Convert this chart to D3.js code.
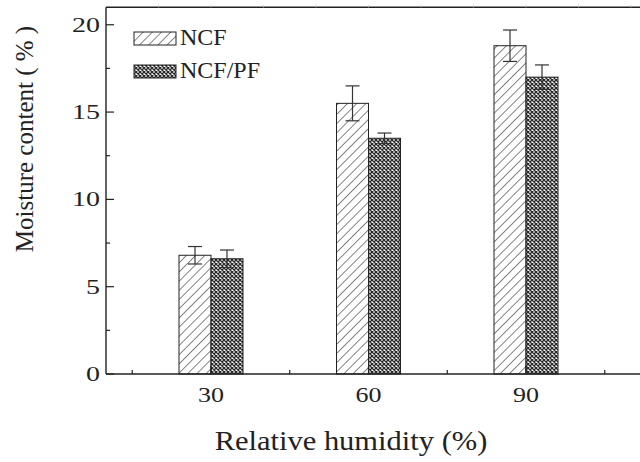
<!DOCTYPE html>
<html lang="en">
<head>
  <meta charset="UTF-8" />
  <title>Moisture content</title>
  <script src="https://d3js.org/d3.v7.min.js"></script>
  <style>
    body { margin: 0; background: #fff; }
    svg { display: block; font-family: 'Liberation Serif', 'Times New Roman', serif; }
    .axis-line { stroke: #222; stroke-width: 1.4; fill: none; }
    .tick-mark { stroke: #222; stroke-width: 1.2; }
    .tick-label { font-size: 20px; fill: #222; }
    .err { stroke: #333; stroke-width: 1.2; fill: none; }
  </style>
</head>
<body>
<svg width="640" height="462"></svg>
<script>
const humidity = [30, 60, 90];
const ncf = [6.8, 15.5, 18.8];
const ncfErr = [0.5, 1.0, 0.9];
const ncfpf = [6.6, 13.5, 17.0];
const ncfpfErr = [0.5, 0.3, 0.7];
const seriesNames = ["NCF", "NCF/PF"];
const yTicks = [0, 5, 10, 15, 20];

const svg = d3.select("svg");
svg.append("rect").attr("width", 640).attr("height", 462).attr("fill", "#fff");

const x = d3.scaleLinear().domain([10, 120]).range([106, 683.5]);
const y = d3.scaleLinear().domain([0, 21]).range([374, 7.3]);
const barW = 32;

// patterns
const defs = svg.append("defs");
const hatch = defs.append("pattern")
  .attr("id", "hatch")
  .attr("patternUnits", "userSpaceOnUse")
  .attr("width", 6.5).attr("height", 6.5)
  .attr("patternTransform", "rotate(45)");
hatch.append("rect").attr("width", 6.5).attr("height", 6.5).attr("fill", "#fff");
hatch.append("line").attr("x1", 0).attr("y1", 0).attr("x2", 0).attr("y2", 6.5)
  .attr("stroke", "#333").attr("stroke-width", 1.2);

const cross = defs.append("pattern")
  .attr("id", "cross")
  .attr("patternUnits", "userSpaceOnUse")
  .attr("width", 4).attr("height", 4);
cross.append("rect").attr("width", 4).attr("height", 4).attr("fill", "#fff");
cross.append("path")
  .attr("d", "M0,0L4,4M4,0L0,4")
  .attr("stroke", "#2a2a2a").attr("stroke-width", 1.3);

const data = [
  { name: seriesNames[0], vals: ncf, errs: ncfErr, fill: "url(#hatch)", off: -barW },
  { name: seriesNames[1], vals: ncfpf, errs: ncfpfErr, fill: "url(#cross)", off: 0 }
];

// bars
data.forEach(s => {
  svg.append("g").selectAll("rect")
    .data(humidity)
    .join("rect")
    .attr("x", (h) => x(h) + s.off)
    .attr("y", (h, i) => y(s.vals[i]))
    .attr("width", barW)
    .attr("height", (h, i) => y(0) - y(s.vals[i]))
    .attr("fill", s.fill)
    .attr("stroke", "#222")
    .attr("stroke-width", 1);
});

// error bars
data.forEach(s => {
  const g = svg.append("g");
  humidity.forEach((h, i) => {
    const cx = x(h) + s.off + barW / 2;
    const hi = y(s.vals[i] + s.errs[i]);
    const lo = y(s.vals[i] - s.errs[i]);
    g.append("line").attr("class", "err").attr("x1", cx).attr("x2", cx).attr("y1", hi).attr("y2", lo);
    g.append("line").attr("class", "err").attr("x1", cx - 7).attr("x2", cx + 7).attr("y1", hi).attr("y2", hi);
    g.append("line").attr("class", "err").attr("x1", cx - 7).attr("x2", cx + 7).attr("y1", lo).attr("y2", lo);
  });
});

// frame lines
svg.append("line").attr("class", "axis-line")
  .attr("x1", x(10)).attr("x2", 640).attr("y1", y(0)).attr("y2", y(0));
svg.append("line").attr("class", "axis-line")
  .attr("x1", x(10)).attr("x2", 640).attr("y1", y(21)).attr("y2", y(21));
svg.append("line").attr("class", "axis-line")
  .attr("x1", x(10)).attr("x2", x(10)).attr("y1", y(0)).attr("y2", y(21));

// y ticks (inward)
d3.range(0, 20.1, 2.5).forEach(v => {
  const major = v % 5 === 0;
  svg.append("line").attr("class", "tick-mark")
    .attr("x1", x(10)).attr("x2", x(10) + (major ? 8 : 4))
    .attr("y1", y(v)).attr("y2", y(v));
});
yTicks.forEach(v => {
  svg.append("text").attr("class", "tick-label")
    .attr("text-anchor", "end")
    .attr("transform", `translate(100,${y(v) + 7}) scale(1.4,1)`)
    .text(v);
});

// x ticks
[15, 45, 75, 105].forEach(v => {
  svg.append("line").attr("class", "tick-mark")
    .attr("x1", x(v)).attr("x2", x(v)).attr("y1", y(0)).attr("y2", y(0) - 4);
});
humidity.forEach(v => {
  svg.append("line").attr("class", "tick-mark")
    .attr("x1", x(v)).attr("x2", x(v)).attr("y1", y(0)).attr("y2", y(0) - 8);
  svg.append("text").attr("class", "tick-label")
    .attr("text-anchor", "middle")
    .attr("transform", `translate(${x(v)},402) scale(1.3,1)`)
    .text(v);
});

// faint top ticks
d3.range(20, 111, 10).forEach(v => {
  svg.append("line").attr("stroke", "#bbb").attr("stroke-width", 1)
    .attr("x1", x(v)).attr("x2", x(v)).attr("y1", y(21) - 2).attr("y2", y(21));
});

// axis titles
svg.append("text")
  .attr("transform", "translate(351,450) scale(1.09,1)")
  .attr("text-anchor", "middle")
  .attr("font-size", 28).attr("fill", "#222")
  .text("Relative humidity (%)");
svg.append("text")
  .attr("transform", "translate(33,139) rotate(-90)")
  .attr("text-anchor", "middle")
  .attr("font-size", 25).attr("fill", "#222")
  .text("Moisture content ( % )");

// legend
data.forEach((s, i) => {
  const ly = 32 + i * 33;
  svg.append("rect")
    .attr("x", 134).attr("y", ly).attr("width", 42).attr("height", 13)
    .attr("fill", s.fill).attr("stroke", "#222").attr("stroke-width", 1);
  svg.append("text")
    .attr("x", 180).attr("y", ly + 13)
    .attr("font-size", 24).attr("fill", "#222")
    .text(s.name);
});
</script>
</body>
</html>
